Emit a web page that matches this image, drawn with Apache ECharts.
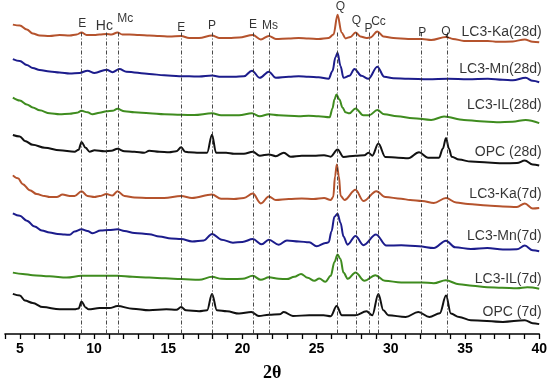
<!DOCTYPE html>
<html><head><meta charset="utf-8">
<script src="https://cdn.jsdelivr.net/npm/echarts@6/dist/echarts.min.js"></script>
<style>html,body{margin:0;padding:0;background:#fff}#c{width:550px;height:387px}</style>
</head><body><div id="c"></div>
<script>
// Offset intensity (a.u.) vs 2θ (deg) for each pattern
const ka28 = [[4.53,314],[5.0,313],[5.47,309],[5.87,305],[6.34,303],[7.01,302.5],[7.68,303.5],[8.36,303],[8.83,304],[9.16,306],[9.5,303.5],[10.03,303.5],[10.37,304],[10.84,304.5],[11.17,304],[11.58,306],[11.91,304],[12.38,304],[13.05,303.5],[13.72,303],[14.4,302.5],[15.07,302],[15.87,302.5],[16.41,300.5],[17.08,300.5],[17.95,303],[18.42,300.5],[19.09,300.5],[19.77,301],[20.7,303.5],[21.24,299],[21.78,302.5],[22.25,299.5],[23.12,300],[23.79,300.5],[24.46,300],[25.13,299.5],[25.81,300.5],[26.14,304],[26.41,324],[26.68,306],[26.95,300],[27.28,301.5],[27.62,306],[27.95,302],[28.36,300.5],[28.62,301],[29.09,307],[29.5,302],[30.17,300.5],[31.17,299.5],[32.11,299.5],[32.72,298.5],[33.72,301.5],[34.19,299.5],[34.93,297.5],[36.54,297.5],[37.21,296.5],[38.22,297],[39.03,299],[39.56,296.5],[40.0,296]];
const mn28 = [[4.53,279],[5.0,277],[5.47,273],[5.87,270],[6.34,268],[7.01,266.5],[7.68,265.5],[8.36,264.5],[9.03,265],[9.56,267.3],[10.03,265],[10.84,268.3],[11.24,265.7],[11.71,269],[12.18,266.3],[13.72,264],[14.73,262.5],[15.74,261.7],[16.41,261.5],[17.08,261.3],[17.95,262.3],[18.56,261],[19.43,261],[20.1,261.5],[20.64,267.3],[21.17,260],[21.78,266.3],[22.25,260],[23.12,261],[23.79,261.5],[24.46,261],[25.13,260.5],[25.81,259],[26.07,267],[26.27,281],[26.41,285.5],[26.61,272],[26.81,260],[27.21,262],[27.55,269],[28.02,262],[28.49,259],[29.09,271.3],[29.56,261],[30.17,259.5],[31.17,259],[32.52,258.5],[33.86,259],[35.2,258.5],[36.54,259],[37.55,258],[38.22,257.5],[39.09,260],[39.56,257],[40.0,255.5]];
const il28 = [[4.53,240],[5.0,237],[5.47,233],[5.87,230],[6.34,227],[7.01,224],[7.68,223],[8.36,223.5],[8.83,224.5],[9.16,226.5],[9.56,225],[9.9,223],[10.37,224.5],[10.84,226],[11.24,226.5],[11.58,228.5],[12.05,226],[12.72,225],[13.72,224],[14.73,223],[15.87,222.5],[16.74,222.3],[17.95,224],[18.56,222],[19.77,222],[20.64,224],[21.17,221],[21.78,223],[22.45,222],[23.79,221],[24.46,221.5],[25.13,221],[25.88,220],[26.07,229],[26.2,238],[26.34,243],[26.54,238],[26.74,230],[26.95,225],[27.21,224],[27.62,229],[28.15,222],[28.55,222],[29.09,227.3],[29.56,223],[30.43,221],[31.5,219],[32.72,217.3],[33.59,220.7],[34.93,217.3],[36.0,216],[37.14,215],[38.2,215.5],[39.09,217.3],[40.0,214]];
const opc28 = [[4.53,202],[5.0,200.5],[5.34,196],[5.87,192],[6.68,189],[7.68,186.5],[8.69,185],[8.96,187],[9.16,195],[9.43,189],[9.7,185],[10.03,186.5],[10.7,185.5],[11.17,186],[11.58,188],[12.05,185.5],[12.72,185],[13.39,184],[13.72,186],[14.4,185],[15.07,184.5],[15.54,185.5],[15.87,189.5],[16.14,185],[16.41,184.5],[17.08,184],[17.62,184],[17.95,202.3],[18.22,184],[18.9,184],[19.43,183],[20.1,183],[20.7,185],[21.17,181],[21.78,182.3],[22.25,180.5],[22.79,184],[23.25,180],[24.0,181],[24.8,181],[25.5,181.5],[25.95,180],[26.41,187.3],[26.81,179.7],[27.62,181],[28.22,181.5],[28.49,184],[28.75,181],[29.16,193.3],[29.63,179.7],[30.5,179],[31.17,178.5],[31.9,184.5],[32.5,179],[33.25,179],[33.5,188],[33.72,199],[33.92,188],[34.1,180],[34.6,177],[35.4,175],[36.54,174],[37.55,173.3],[38.5,173.5],[39.03,176],[39.56,172],[40.0,171]];
const ka7 = [[4.53,161],[4.87,158],[5.2,152],[5.67,146],[6.14,142],[6.68,140],[7.01,139],[7.48,139],[7.88,141.5],[8.36,140],[8.69,140],[9.16,145],[9.56,140],[10.03,139],[10.37,140],[10.84,142],[11.24,140.5],[11.58,145],[12.05,140],[12.72,138.5],[13.72,138],[14.73,138],[15.87,140],[16.6,138],[17.95,141.5],[18.56,137.3],[19.43,137],[20.1,138],[20.7,142.5],[21.24,132.5],[21.78,139.5],[22.25,136],[23.12,137],[24.0,137.5],[24.8,137],[25.5,138],[25.95,136],[26.12,139],[26.24,160],[26.36,172],[26.5,160],[26.62,140],[26.88,136],[27.62,146.3],[28.15,135],[29.03,145],[29.63,139],[30.7,137.3],[31.3,136],[32.11,135],[32.9,133],[33.72,138],[34.4,133.5],[35.2,132],[36.5,130.5],[37.55,129.5],[38.5,129],[39.03,132.5],[39.56,127.5],[40.0,128]];
const mn7 = [[4.53,122.5],[5.0,120],[5.47,115],[6.0,109],[6.48,105],[7.01,103],[7.55,101.5],[8.02,101],[8.36,100.7],[8.69,104],[9.16,106.3],[9.56,104.5],[9.9,102.3],[10.44,105],[11.0,105.5],[11.58,106.3],[12.05,104.5],[12.72,102.5],[13.72,101.3],[14.4,99],[15.2,97],[15.87,96.3],[16.61,94],[17.4,95],[17.95,101.5],[18.6,95.7],[19.36,92.7],[20.0,93.5],[20.7,96.3],[21.3,91],[21.78,95.7],[22.45,90.7],[23.0,95],[23.8,94],[24.5,93],[25.0,89],[25.6,92.3],[25.81,93],[26.0,104],[26.2,119],[26.41,122],[26.61,113],[26.81,99],[27.08,90.7],[27.62,99.5],[28.15,90.2],[29.0,101],[29.7,89.7],[30.7,90],[31.9,89],[32.9,87.3],[33.72,94.7],[34.33,88],[35.4,86.3],[36.5,87.3],[37.55,85.7],[38.5,86],[39.03,89.7],[39.56,85],[40.0,84]];
const il7 = [[4.53,62.3],[5.2,61],[5.87,59.7],[7.0,58.5],[8.16,57.3],[9.16,59],[10.37,59],[11.58,59],[12.6,58],[13.72,57.3],[14.8,56.5],[15.87,55.7],[17.08,55],[17.95,58],[18.6,56],[19.3,55.7],[20.0,56],[20.7,59],[21.24,55],[21.78,57.5],[22.45,56],[23.0,55.7],[23.5,58],[23.95,61],[24.4,57],[24.85,54],[25.18,56.3],[25.6,53],[25.95,59],[26.2,73],[26.41,80.7],[26.61,76],[26.81,62.3],[27.1,56],[27.62,62.5],[28.22,54],[28.96,59.7],[29.6,54],[30.7,52.3],[32.1,52.3],[32.9,51.5],[33.7,54.5],[34.6,50.5],[35.5,49],[36.5,47.5],[37.5,47],[38.5,46.5],[39.2,47.5],[40.0,46]];
const opc7 = [[4.53,40.7],[5.0,39],[5.34,34],[5.87,31.5],[6.55,27.3],[7.68,25],[8.69,25],[8.96,26],[9.16,33],[9.43,27],[9.63,25],[10.37,26.3],[11.04,26.3],[11.58,28.3],[12.59,25.7],[13.72,24],[14.87,25],[15.55,24.5],[15.87,27.3],[16.2,24],[17.08,23],[17.62,24],[17.95,40.7],[18.28,24],[18.96,23],[19.77,20.7],[20.6,22.3],[21.1,18.3],[21.78,19.5],[22.5,20],[22.79,22.3],[23.4,18.3],[24.5,19],[25.47,19],[25.95,18],[26.35,28.3],[26.7,19],[27.6,19],[28.36,23],[28.75,19],[29.16,40.7],[29.5,24],[29.83,19],[31.0,17.3],[31.85,22.3],[32.6,17.3],[33.3,21],[33.72,39],[34.05,20.7],[34.6,17.3],[35.4,14],[37.55,12.3],[39.03,14],[39.56,11],[40.0,10]];

const seriesNames = ['LC3-Ka(28d)','LC3-Mn(28d)','LC3-IL(28d)','OPC (28d)','LC3-Ka(7d)','LC3-Mn(7d)','LC3-IL(7d)','OPC (7d)'];
const seriesData = [ka28, mn28, il28, opc28, ka7, mn7, il7, opc7];
const seriesLabelLevel = [306, 269, 232, 185, 142, 99, 56, 22];

// phase reference lines (2θ) and their labels [name, 2θ, level]
const phaseLines = [9.15, 10.85, 11.6, 15.85, 17.95, 20.7, 21.8, 26.4, 27.65, 28.55, 29.15, 32.05, 33.8];
const phaseLabels = [['E',9.2,315],['Hc',10.7,312],['Mc',12.1,320],['E',15.87,311],['P',17.95,313],['E',20.72,314],['Ms',21.85,313],['Q',26.6,332],['Q',27.68,318],['P',28.5,310],['Cc',29.17,317],['P',32.11,306],['Q',33.72,307]];
const lineTop = 306;

const colors = ['#b5532d','#1c1c8c','#3f8c1f','#111111','#b5532d','#1c1c8c','#3f8c1f','#111111'];

const chart = echarts.init(document.getElementById('c'));
const series = seriesData.map((d, i) => ({
  name: seriesNames[i], type: 'line', data: d, showSymbol: false, smooth: 0.35, smoothMonotone: 'x',
  lineStyle: { color: colors[i], width: 2 }, z: 3, animation: false
}));
series[0].markLine = {
  symbol: ['none','none'], silent: true, animation: false, label: { show: false },
  lineStyle: { color: '#333', width: 0.9, type: [4,2,1,2] },
  data: phaseLines.map(x => [{ coord: [x, lineTop] }, { coord: [x, 0] }])
};
const phaseItems = phaseLabels.map(p => {
  const item = { name: p[0], value: [p[1], p[2]] };
  if (p[0] === 'Hc') item.label = { fontSize: 14 };
  return item;
});
series.push({
  type: 'scatter', symbolSize: 1, itemStyle: { color: 'rgba(0,0,0,0)' }, clip: false, z: 5, animation: false,
  data: phaseItems,
  label: { show: true, position: 'inside', formatter: p => p.name, color: '#000',
    fontFamily: 'Liberation Sans', fontSize: 12 }
});
series.push({
  type: 'scatter', symbolSize: 1, itemStyle: { color: 'rgba(0,0,0,0)' }, clip: false, z: 5, animation: false,
  data: seriesNames.map((n, i) => ({ name: n, value: [40, seriesLabelLevel[i]] })),
  label: { show: true, position: 'left', distance: 0, offset: [3, 0], formatter: p => p.name, color: '#000',
    fontFamily: 'Liberation Sans', fontSize: 14 }
});

chart.setOption({
  animation: false,
  grid: { left: 5, right: 9, top: 0, bottom: 48 },
  xAxis: {
    type: 'value', min: 4, max: 40, interval: 1,
    axisLine: { lineStyle: { color: '#000', width: 1.6 } },
    axisTick: { show: true, length: 5, lineStyle: { color: '#000', width: 1.3 } },
    axisLabel: { formatter: v => (v % 5 === 0 ? String(v) : ''), color: '#000', fontWeight: 'bold',
      fontSize: 14, fontFamily: 'Liberation Sans', margin: 8 },
    splitLine: { show: false },
    name: '2θ', nameLocation: 'middle', nameGap: 30,
    nameTextStyle: { fontFamily: 'Liberation Serif', fontWeight: 'bold', fontSize: 18, color: '#000' }
  },
  yAxis: { type: 'value', min: 0, max: 339, show: false },
  series: series
});
</script></body></html>
